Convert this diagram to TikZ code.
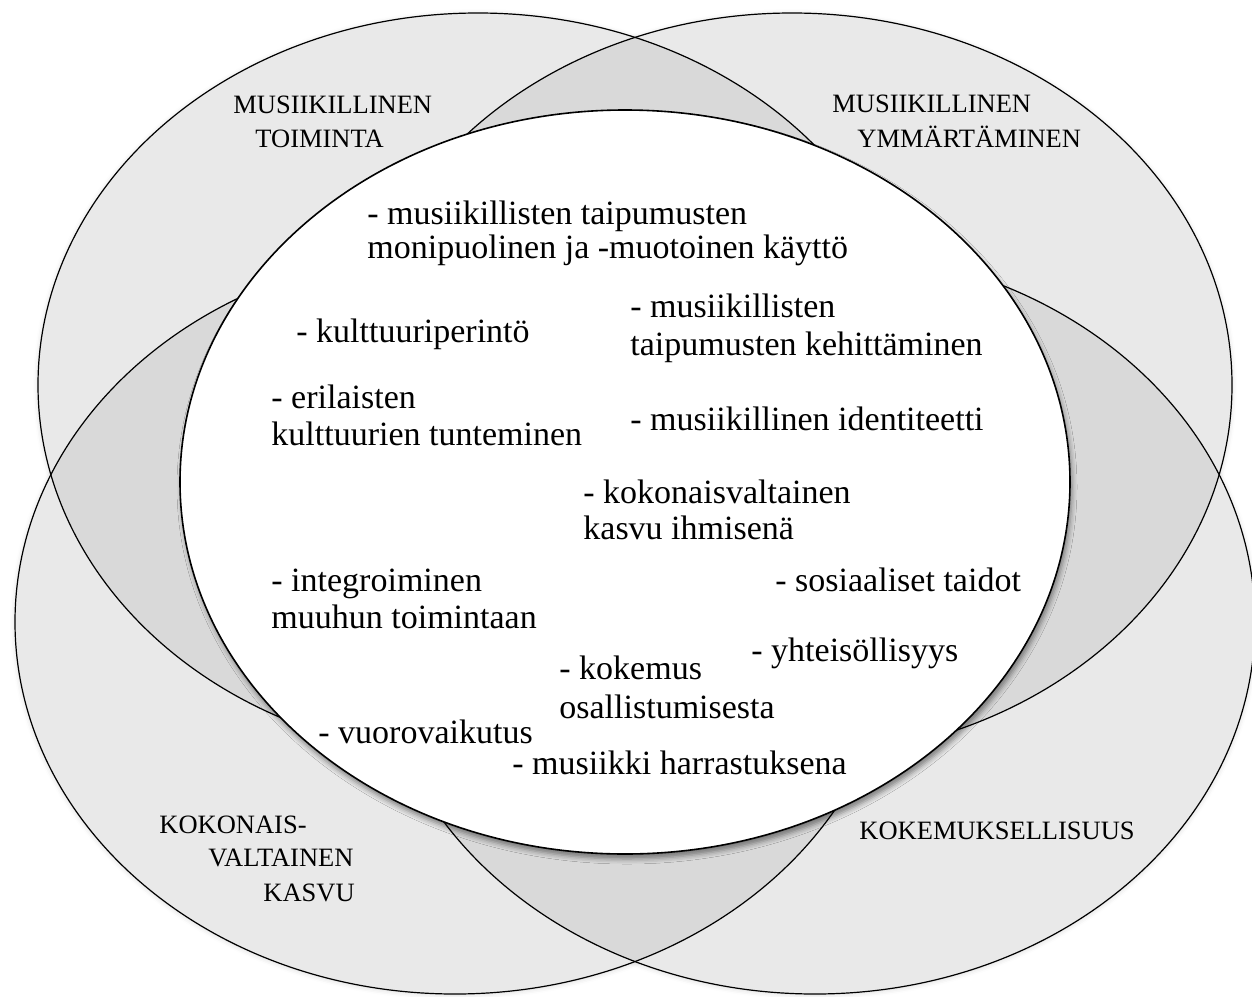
\documentclass[tikz,border=0pt]{standalone}
\usepackage{fontspec}
\setmainfont{Liberation Serif}
\usetikzlibrary{shadows.blur}
\definecolor{lightfill}{RGB}{233,233,233}
\definecolor{darkfill}{RGB}{217,217,217}
\begin{document}
\begin{tikzpicture}[x=0.5pt,y=-0.5pt,
  outline/.style={draw=black,line width=0.6pt},
  halo/.style={blur shadow={shadow xshift=0pt, shadow yshift=-0.5pt, shadow blur radius=2.5pt, shadow opacity=15}},
  body/.style={font=\fontsize{17}{18}\selectfont, inner sep=0pt, anchor=base west},
  caps/.style={font=\fontsize{13.25}{15}\selectfont, inner sep=0pt, anchor=base west}]
\useasboundingbox (0,0) rectangle (1252,996);
\def\TL{(478,385) ellipse [x radius=440, y radius=372]}
\def\TR{(792,385) ellipse [x radius=440, y radius=372]}
\def\BL{(455,622) ellipse [x radius=440, y radius=372]}
\def\BR{(815,622) ellipse [x radius=440, y radius=372]}
\def\CE{(625,482) ellipse [x radius=445, y radius=372]}
% soft halos
\path[halo] \TL;
\path[halo] \TR;
\path[halo] \BL;
\path[halo] \BR;
% fills
\fill[lightfill] \TL;
\fill[lightfill] \TR;
\fill[lightfill] \BL;
\fill[lightfill] \BR;
\begin{scope}\clip \TL; \fill[darkfill] \TR; \end{scope}
\begin{scope}\clip \TL; \fill[darkfill] \BL; \end{scope}
\begin{scope}\clip \TR; \fill[darkfill] \BR; \end{scope}
\begin{scope}\clip \BL; \fill[darkfill] \BR; \end{scope}
% outlines
\draw[outline] \TL;
\draw[outline] \TR;
\draw[outline] \BL;
\draw[outline] \BR;
% central ellipse
\path[blur shadow={shadow xshift=1pt, shadow yshift=-2.5pt, shadow blur radius=2.5pt, shadow opacity=45}] \CE;
\fill[white] \CE;
\draw[black, line width=0.8pt] \CE;
% outer labels
\node[caps] (l1a) at (233,113) {MUSIIKILLINEN};
\node[caps] (l1b) at (255,147) {TOIMINTA};
\node[caps] (l2a) at (832,112) {MUSIIKILLINEN};
\node[caps] (l2b) at (857,147) {YMMÄRTÄMINEN};
\node[caps] (l3a) at (159,833) {KOKONAIS-};
\node[caps] (l3b) at (208,866) {VALTAINEN};
\node[caps] (l3c) at (263,901) {KASVU};
\node[caps] (l4) at (859,839) {KOKEMUKSELLISUUS};
% inner items
\node[body] (t1a) at (367,224) {- musiikillisten taipumusten};
\node[body] (t1b) at (367,258) {monipuolinen ja -muotoinen käyttö};
\node[body] (t2) at (296,342) {- kulttuuriperintö};
\node[body] (t3a) at (630,317) {- musiikillisten};
\node[body] (t3b) at (630,355) {taipumusten kehittäminen};
\node[body] (t4a) at (271,408) {- erilaisten};
\node[body] (t4b) at (271,445) {kulttuurien tunteminen};
\node[body] (t5) at (630,430) {- musiikillinen identiteetti};
\node[body] (t6a) at (583,503) {- kokonaisvaltainen};
\node[body] (t6b) at (583,539) {kasvu ihmisenä};
\node[body] (t7a) at (271,591) {- integroiminen};
\node[body] (t7b) at (271,628) {muuhun toimintaan};
\node[body] (t8) at (775,591) {- sosiaaliset taidot};
\node[body] (t9) at (751,661) {- yhteisöllisyys};
\node[body] (t10a) at (559,679) {- kokemus};
\node[body] (t10b) at (559,718) {osallistumisesta};
\node[body] (t11) at (318,743) {- vuorovaikutus};
\node[body] (t12) at (512,774) {- musiikki harrastuksena};
\end{tikzpicture}
\end{document}
